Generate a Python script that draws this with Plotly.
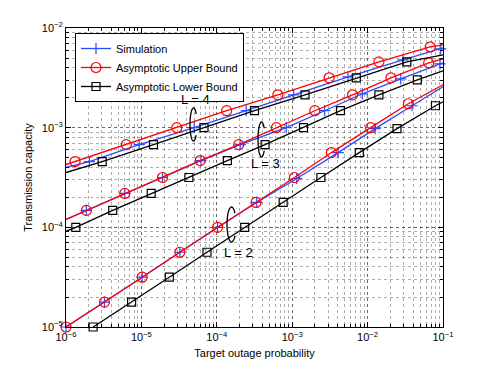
import math
import plotly.graph_objects as go

# ---- Data (log10 values) ----
# Each curve: marker points (log10 outage, log10 capacity) and line end points at the axis edges.
# L = 2
L2_sim_lx   = [-6.0, -5.49, -4.99, -4.49, -3.99, -3.47, -2.94, -2.39, -1.90, -1.41]
L2_sim_ly   = [-5.0, -4.75, -4.50, -4.25, -4.00, -3.75, -3.51, -3.25, -3.01, -2.78]
L2_sim_end  = [(-1.0, -2.59)]
L2_up_lx    = [-6.0, -5.49, -4.99, -4.49, -3.99, -3.48, -2.97, -2.48, -1.96, -1.46]
L2_up_ly    = [-5.0, -4.75, -4.50, -4.25, -4.00, -3.75, -3.50, -3.25, -3.00, -2.76]
L2_up_end   = [(-1.0, -2.57)]
L2_lo_lx    = [-5.64, -5.13, -4.63, -4.13, -3.63, -3.12, -2.62, -2.11, -1.61, -1.10]
L2_lo_ly    = [-5.0, -4.75, -4.50, -4.25, -4.00, -3.75, -3.50, -3.25, -3.01, -2.78]
L2_lo_end   = [(-1.0, -2.74)]
# L = 3
L3_sim_lx   = [-5.73, -5.22, -4.72, -4.21, -3.69, -3.08, -2.57, -2.07, -1.56, -1.04]
L3_sim_ly   = [-3.83, -3.66, -3.50, -3.33, -3.17, -3.00, -2.83, -2.66, -2.51, -2.36]
L3_sim_start = [(-6.0, -3.92)]
L3_sim_end  = [(-1.0, -2.35)]
L3_up_lx    = [-5.73, -5.22, -4.72, -4.22, -3.71, -3.21, -2.70, -2.20, -1.69, -1.19]
L3_up_ly    = [-3.83, -3.66, -3.50, -3.33, -3.17, -3.00, -2.83, -2.67, -2.50, -2.35]
L3_up_start = [(-6.0, -3.92)]
L3_up_end   = [(-1.0, -2.31)]
L3_lo_lx    = [-5.87, -5.38, -4.87, -4.37, -3.86, -3.36, -2.85, -2.36, -1.85, -1.34]
L3_lo_ly    = [-4.00, -3.83, -3.66, -3.50, -3.33, -3.17, -3.00, -2.83, -2.67, -2.52]
L3_lo_start = [(-6.0, -4.04)]
L3_lo_end   = [(-1.0, -2.43)]
# L = 4
L4_sim_lx   = [-5.69, -5.03, -4.30, -3.61, -2.98, -2.26, -1.53, -1.03]
L4_sim_ly   = [-3.34, -3.17, -3.00, -2.83, -2.67, -2.49, -2.32, -2.21]
L4_sim_start = [(-6.0, -3.40)]
L4_sim_end  = [(-1.0, -2.20)]
L4_up_lx    = [-5.88, -5.20, -4.53, -3.87, -3.19, -2.51, -1.85, -1.17]
L4_up_ly    = [-3.34, -3.17, -3.00, -2.83, -2.67, -2.50, -2.34, -2.19]
L4_up_start = [(-6.0, -3.37)]
L4_up_end   = [(-1.0, -2.17)]
L4_lo_lx    = [-5.52, -4.84, -4.17, -3.50, -2.83, -2.15, -1.48]
L4_lo_ly    = [-3.34, -3.17, -3.00, -2.83, -2.67, -2.50, -2.34]
L4_lo_start = [(-6.0, -3.45)]
L4_lo_end   = [(-1.0, -2.27)]

x_tickvals = [1e-6, 1e-5, 1e-4, 1e-3, 1e-2, 1e-1]
x_ticktext = ["10<sup>−6</sup>", "10<sup>−5</sup>", "10<sup>−4</sup>", "10<sup>−3</sup>", "10<sup>−2</sup>", "10<sup>−1</sup>"]
y_tickvals = [1e-5, 1e-4, 1e-3, 1e-2]
y_ticktext = ["10<sup>−5</sup>", "10<sup>−4</sup>", "10<sup>−3</sup>", "10<sup>−2</sup>"]

series_names = ["Simulation", "Asymptotic Upper Bound", "Asymptotic Lower Bound"]
group_labels = ["L = 2", "L = 3", "L = 4"]

# ---- Styles ----
BLUE, RED, BLACK = "#2b4bff", "#ff0000", "#000000"
styles = {
    "sim": dict(color=BLUE, symbol="cross-thin-open", size=8),
    "up": dict(color=RED, symbol="circle-open", size=10),
    "lo": dict(color=BLACK, symbol="square-open", size=8),
}
FONT = "Liberation Sans"

fig = go.Figure()

def add_curve(kind, lx, ly, start=(), end=()):
    st = styles[kind]
    line_pts = list(start) + list(zip(lx, ly)) + list(end)
    fig.add_trace(go.Scatter(
        x=[10 ** p[0] for p in line_pts], y=[10 ** p[1] for p in line_pts],
        mode="lines", line=dict(color=st["color"], width=1.3),
        showlegend=False, hoverinfo="skip"))
    fig.add_trace(go.Scatter(
        x=[10 ** v for v in lx], y=[10 ** v for v in ly],
        mode="markers", cliponaxis=False,
        marker=dict(symbol=st["symbol"], size=st["size"], color=st["color"],
                    line=dict(color=st["color"], width=1.2)),
        showlegend=False))

# drawing order: simulation, upper, lower
add_curve("sim", L2_sim_lx, L2_sim_ly, end=L2_sim_end)
add_curve("sim", L3_sim_lx, L3_sim_ly, L3_sim_start, L3_sim_end)
add_curve("sim", L4_sim_lx, L4_sim_ly, L4_sim_start, L4_sim_end)
add_curve("up", L2_up_lx, L2_up_ly, end=L2_up_end)
add_curve("up", L3_up_lx, L3_up_ly, L3_up_start, L3_up_end)
add_curve("up", L4_up_lx, L4_up_ly, L4_up_start, L4_up_end)
add_curve("lo", L2_lo_lx, L2_lo_ly, end=L2_lo_end)
add_curve("lo", L3_lo_lx, L3_lo_ly, L3_lo_start, L3_lo_end)
add_curve("lo", L4_lo_lx, L4_lo_ly, L4_lo_start, L4_lo_end)

# legend entries
for kind, name in zip(["sim", "up", "lo"], series_names):
    st = styles[kind]
    fig.add_trace(go.Scatter(
        x=[None], y=[None], mode="lines+markers", name=name,
        line=dict(color=st["color"], width=1.3),
        marker=dict(symbol=st["symbol"], size=st["size"], color=st["color"],
                    line=dict(color=st["color"], width=1.2))))

# ---- Layout ----
# the page body has an 8px margin, so the figure is drawn 8px right/down
OFF = 8
W, H = 482, 360
ML, MR, MT, MB = 58, 47, 20, 41
PW, PH = W - ML - MR, H - MT - MB

def px(xs):  # screen x -> paper
    return (xs - OFF - ML) / PW

def py(ys):  # screen y -> paper
    return (H - MB - (ys - OFF)) / PH

axis_common = dict(
    type="log", showline=True, linecolor="black", linewidth=1, mirror="allticks",
    ticks="inside", ticklen=5, tickcolor="black",
    showgrid=True, gridcolor="rgba(0,0,0,0.4)", griddash="dot", gridwidth=1,
    zeroline=False,
    tickfont=dict(family=FONT, size=11, color="black"),
    minor=dict(ticks="inside", ticklen=3, tickcolor="black", showgrid=True,
               gridcolor="rgba(0,0,0,0.32)", griddash="dot", gridwidth=1, dtick="D1"),
)

fig.update_xaxes(**axis_common, range=[-6, -1], tickvals=x_tickvals, ticktext=x_ticktext,
                 title=dict(text="Target outage probability", standoff=7,
                            font=dict(family=FONT, size=11, color="black")))
fig.update_yaxes(**axis_common, range=[-5, -2], tickvals=y_tickvals, ticktext=y_ticktext,
                 title=dict(text="Transmission capacity", standoff=6,
                            font=dict(family=FONT, size=11, color="black")))

# group annotations (label + open ellipse bracket), screen-pixel positions
ann_font = dict(family=FONT, size=13, color="black")
labels_pos = [(238, 252.5), (265, 163), (195.5, 100)]
ellipses = [(227, 236, 207, 242), (258, 265, 122, 157), (190, 197, 108, 141)]
for text, (tx, ty) in zip(group_labels, labels_pos):
    fig.add_annotation(x=px(tx), y=py(ty), xref="paper", yref="paper", text=text,
                       showarrow=False, font=ann_font, xanchor="center", yanchor="middle",
                       bgcolor="rgba(0,0,0,0)")

def arc_path(x0, x1, y0, y1, a_start=40, a_end=320, n=40):
    cx, cy = (x0 + x1) / 2, (y0 + y1) / 2
    rx, ry = (x1 - x0) / 2, (y1 - y0) / 2
    pts = []
    for i in range(n + 1):
        a = math.radians(a_start + (a_end - a_start) * i / n)
        sx = cx + rx * math.cos(a)
        sy = cy - ry * math.sin(a)
        pts.append(f"{px(sx):.5f},{py(sy):.5f}")
    return "M" + " L".join(pts)

for (x0, x1, y0, y1) in ellipses:
    fig.add_shape(type="path", xref="paper", yref="paper",
                  path=arc_path(x0, x1, y0, y1),
                  line=dict(color="black", width=1.3))

fig.update_layout(
    width=W, height=H, margin=dict(l=ML, r=MR, t=MT, b=MB, autoexpand=False),
    paper_bgcolor="white", plot_bgcolor="white",
    font=dict(family=FONT, size=11, color="black"),
    legend=dict(x=px(75), y=py(33), xanchor="left", yanchor="top",
                bgcolor="white", bordercolor="black", borderwidth=1,
                font=dict(family=FONT, size=11, color="black"),
                tracegroupgap=0, itemwidth=30),
)

fig.write_html("out.html")
